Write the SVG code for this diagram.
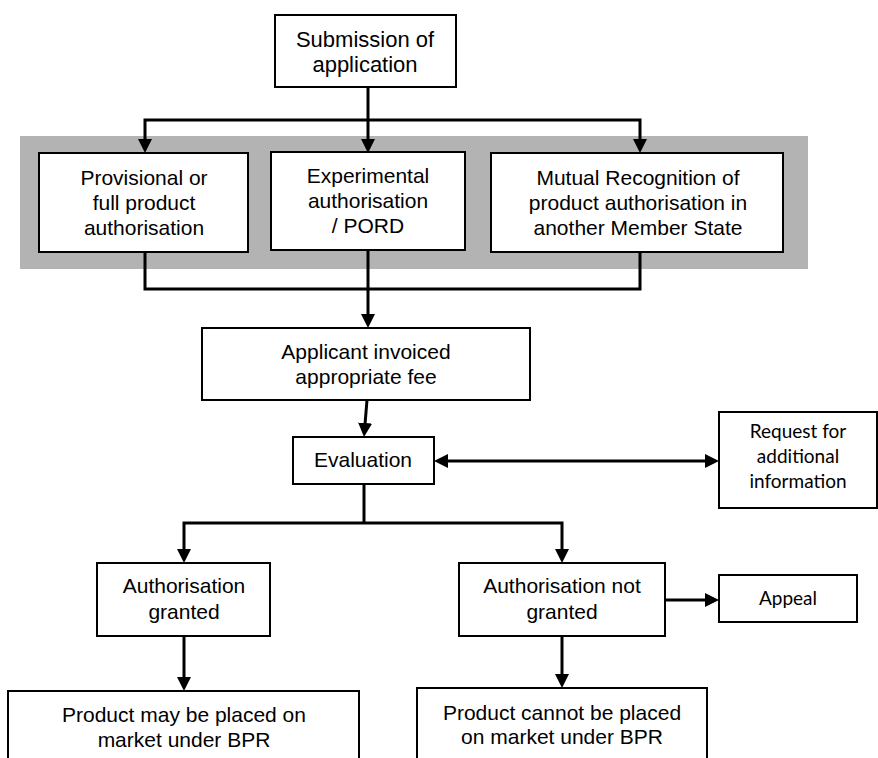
<svg xmlns="http://www.w3.org/2000/svg" width="878" height="758" viewBox="0 0 878 758">
<defs>
<style>
.box{fill:#fff;stroke:#000;stroke-width:2}
.t{font-family:"Liberation Sans",Arial,sans-serif;font-size:21px;fill:#000;text-anchor:middle}
.c{font-family:Lato,"Open Sans",sans-serif;font-size:19px;fill:#000;text-anchor:middle}
.ln{fill:none;stroke:#000;stroke-width:3}
</style>
<marker id="ah" markerUnits="userSpaceOnUse" viewBox="0 0 14 14" markerWidth="14" markerHeight="14" refX="10" refY="7" orient="auto-start-reverse">
<path d="M0,0 L14,7 L0,14 z" fill="#000"/>
</marker>
</defs>
<rect id="band" x="20" y="136" width="788" height="133" fill="#b3b3b3"/>
<g id="connectors">
<line class="ln" x1="368" y1="87" x2="368" y2="149" marker-end="url(#ah)"/>
<polyline class="ln" points="145,149 145,120 640,120 640,149" marker-start="url(#ah)" marker-end="url(#ah)"/>
<polyline class="ln" points="145,252 145,289 640,289 640,252"/>
<line class="ln" x1="368" y1="250" x2="368" y2="324" marker-end="url(#ah)"/>
<line class="ln" x1="367" y1="400" x2="364.3" y2="433" marker-end="url(#ah)"/>
<line class="ln" x1="438" y1="461" x2="715" y2="461" marker-start="url(#ah)" marker-end="url(#ah)"/>
<line class="ln" x1="364" y1="484" x2="364" y2="523"/>
<polyline class="ln" points="184,559 184,523 562,523 562,559" marker-start="url(#ah)" marker-end="url(#ah)"/>
<line class="ln" x1="665" y1="600" x2="715" y2="600" marker-end="url(#ah)"/>
<line class="ln" x1="184" y1="636" x2="184" y2="687" marker-end="url(#ah)"/>
<line class="ln" x1="562" y1="636" x2="562" y2="684" marker-end="url(#ah)"/>
</g>
<g id="submission">
<rect class="box" x="275" y="15" width="181" height="72"/>
<text class="t" x="365" y="47" style="font-size:22px">Submission of</text>
<text class="t" x="365" y="72" style="font-size:22px">application</text>
</g>
<g id="provisional">
<rect class="box" x="39" y="153" width="209" height="99"/>
<text class="t" x="144" y="185">Provisional or</text>
<text class="t" x="144" y="210">full product</text>
<text class="t" x="144" y="235">authorisation</text>
</g>
<g id="experimental">
<rect class="box" x="271" y="152" width="194" height="98"/>
<text class="t" x="368" y="183">Experimental</text>
<text class="t" x="368" y="208">authorisation</text>
<text class="t" x="368" y="233">/ PORD</text>
</g>
<g id="mutual">
<rect class="box" x="491" y="153" width="292" height="99"/>
<text class="t" x="638" y="185">Mutual Recognition of</text>
<text class="t" x="638" y="210">product authorisation in</text>
<text class="t" x="638" y="235">another Member State</text>
</g>
<g id="invoice">
<rect class="box" x="202" y="328" width="328" height="72"/>
<text class="t" x="366" y="359">Applicant invoiced</text>
<text class="t" x="366" y="384">appropriate fee</text>
</g>
<g id="evaluation">
<rect class="box" x="293" y="437" width="141" height="47"/>
<text class="t" x="363" y="467">Evaluation</text>
</g>
<g id="request">
<rect class="box" x="719" y="412" width="158" height="96"/>
<text class="c" x="798" y="438">Request for</text>
<text class="c" x="798" y="463">additional</text>
<text class="c" x="798" y="488">information</text>
</g>
<g id="granted">
<rect class="box" x="97" y="563" width="173" height="73"/>
<text class="t" x="184" y="593">Authorisation</text>
<text class="t" x="184" y="619">granted</text>
</g>
<g id="notgranted">
<rect class="box" x="459" y="563" width="206" height="73"/>
<text class="t" x="562" y="593">Authorisation not</text>
<text class="t" x="562" y="619">granted</text>
</g>
<g id="appeal">
<rect class="box" x="719" y="575" width="138" height="47"/>
<text class="c" x="788" y="605">Appeal</text>
</g>
<g id="maybeplaced">
<rect class="box" x="8" y="691" width="351" height="80"/>
<text class="t" x="184" y="722">Product may be placed on</text>
<text class="t" x="184" y="747">market under BPR</text>
</g>
<g id="cannotplaced">
<rect class="box" x="417" y="688" width="290" height="83"/>
<text class="t" x="562" y="720">Product cannot be placed</text>
<text class="t" x="562" y="744">on market under BPR</text>
</g>
</svg>
